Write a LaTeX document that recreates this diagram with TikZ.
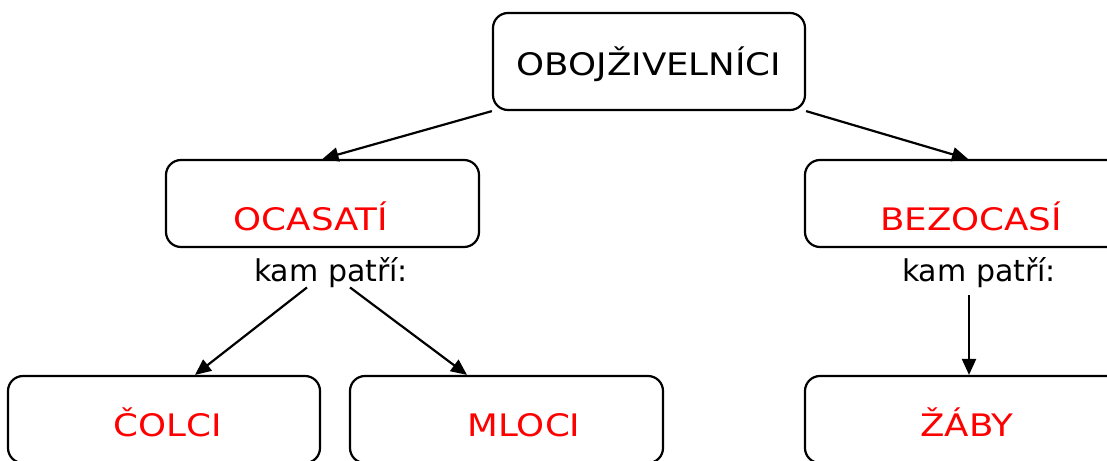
\documentclass[tikz,border=0pt]{standalone}
\usepackage{fontspec}
\setmainfont{DejaVu Sans}[FakeStretch=1.15]
\newfontfamily\kamfont{DejaVu Sans}
\usetikzlibrary{arrows.meta,calc}
\definecolor{lab}{RGB}{255,0,0}
\begin{document}
\begin{tikzpicture}[x=1pt,y=-1pt,
  box/.style={draw,line width=2.2pt,rounded corners=15pt,inner sep=0pt,minimum height=87pt},
  lbl/.style={anchor=base,inner sep=0pt,font=\fontsize{31}{36}\selectfont},
  redtxt/.style={lbl,text=lab},
  arr/.style={line width=2.2pt,-{Triangle[length=16pt,width=14pt]}}]
\useasboundingbox (0,0) rectangle (1107,460);
\node[box,minimum width=312pt,minimum height=97pt] (top) at (649,61.5) {};
\node[lbl] (topT) at (649,75) {OBOJŽIVELNÍCI};
\node[box,minimum width=313pt] (ocas) at (322.5,203.5) {};
\node[redtxt] (ocasT) at (311,230) {OCASATÍ};
\node[box,minimum width=326pt] (bez) at (968,203.5) {};
\node[redtxt] (bezT) at (971,230) {BEZOCASÍ};
\node[lbl,font=\kamfont\fontsize{30}{36}\selectfont] (kamL) at (331,281) {kam patří:};
\node[lbl,font=\kamfont\fontsize{30}{36}\selectfont] (kamR) at (979,281) {kam patří:};
\node[box,minimum width=312pt] (colci) at (164,419.5) {};
\node[redtxt] (colciT) at (168,436) {ČOLCI};
\node[box,minimum width=313pt] (mloci) at (506.5,419.5) {};
\node[redtxt] (mlociT) at (524,436) {MLOCI};
\node[box,minimum width=328pt] (zaby) at (969,419.5) {};
\node[redtxt] (zabyT) at (967,436) {ŽÁBY};
\draw[arr] (top.south west) -- (ocas.north);
\draw[arr] (top.south east) -- (bez.north);
\draw[arr] ($(kamL.south)+(-24,0)$) -- ($(colci.north)+(31,0)$);
\draw[arr] ($(kamL.south)+(19,0)$) -- ($(mloci.north)+(-39.5,0)$);
\draw[arr] ($(kamR.south -| zaby.north)+(0,8)$) -- (zaby.north);
\end{tikzpicture}
\end{document}
